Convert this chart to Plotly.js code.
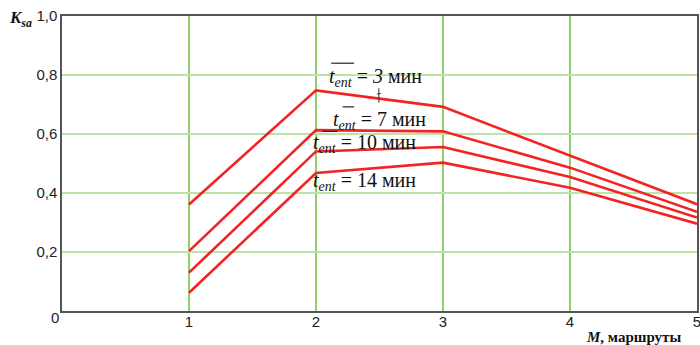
<!DOCTYPE html>
<html>
<head>
<meta charset="utf-8">
<script src="https://cdn.plot.ly/plotly-3.0.1.min.js"></script>
<style>
  html, body { margin: 0; padding: 0; background: #ffffff; }
  #chart { width: 700px; height: 345px; }
</style>
</head>
<body>
<div id="chart"></div>
<script>
// Number of routes M
const routes = [1, 2, 3, 4, 5];

// K_sa for each mean entry time (min)
const ksaT3  = [0.361, 0.748, 0.692, 0.528, 0.362];
const ksaT7  = [0.203, 0.613, 0.609, 0.486, 0.336];
const ksaT10 = [0.130, 0.541, 0.556, 0.454, 0.317];
const ksaT14 = [0.062, 0.468, 0.503, 0.418, 0.296];

const seriesNames = ['t = 3 мин', 't = 7 мин', 't = 10 мин', 't = 14 мин'];
const seriesValues = [ksaT3, ksaT7, ksaT10, ksaT14];

// Axis ticks
const xTickVals = [1, 2, 3, 4, 5];
const xTickText = ['1', '2', '3', '4', '5'];
const yTickVals = [0.2, 0.4, 0.6, 0.8, 1.0];
const yTickText = ['0,2', '0,4', '0,6', '0,8', '1,0'];

const lineRed = '#f42323';
const serif = 'Liberation Serif';
const sans = 'Liberation Sans';

const traces = seriesValues.map((vals, i) => ({
  x: routes,
  y: vals,
  name: seriesNames[i],
  type: 'scatter',
  mode: 'lines',
  line: { color: lineRed, width: 2.6 },
  hoverinfo: 'skip',
  showlegend: false
}));

// Curve labels: mean entry time with overline on t
const labelText = [
  '<i>t</i><sub><i>ent</i></sub> = <i>3</i> мин',
  '<i>t</i><sub><i>ent</i></sub> = 7 мин',
  '<i>t</i><sub><i>ent</i></sub> = 10 мин',
  '<i>t</i><sub><i>ent</i></sub> = 14 мин'
];
const labelPos = [
  { x: 2.465, y: 0.792 },
  { x: 2.50, y: 0.645 },
  { x: 2.38, y: 0.567 },
  { x: 2.38, y: 0.438 }
];

const annotations = labelText.map((t, i) => ({
  x: labelPos[i].x, y: labelPos[i].y, xref: 'x', yref: 'y',
  text: t, showarrow: false,
  font: { family: serif, size: 20, color: '#111' }
}));

// Axis titles
annotations.push({
  xref: 'paper', yref: 'paper', x: -0.066, y: 0.99,
  xanchor: 'center', yanchor: 'middle',
  text: '<b><i>K</i></b><sub><b><i>sa</i></b></sub>',
  showarrow: false,
  font: { family: serif, size: 17, color: '#111' }
});
annotations.push({
  xref: 'paper', yref: 'paper', x: 0.978, y: -0.088,
  xanchor: 'right', yanchor: 'middle',
  text: '<b><i>M</i>, маршруты</b>',
  showarrow: false,
  font: { family: serif, size: 15, color: '#111' }
});
// Origin label
annotations.push({
  xref: 'paper', yref: 'paper', x: -0.002, y: -0.021,
  xanchor: 'right', yanchor: 'middle',
  text: '0', showarrow: false,
  font: { family: sans, size: 15, color: '#222' }
});

// Overlines above t and the small leader under the first label
const shapes = [
  { type: 'line', xref: 'x', yref: 'y', x0: 2.12, x1: 2.30, y0: 0.840, y1: 0.840,
    line: { color: '#222', width: 1.2 } },
  { type: 'line', xref: 'x', yref: 'y', x0: 2.21, x1: 2.30, y0: 0.692, y1: 0.692,
    line: { color: '#222', width: 1.2 } },
  { type: 'line', xref: 'x', yref: 'y', x0: 2.05, x1: 2.17, y0: 0.609, y1: 0.609,
    line: { color: '#222', width: 1.2 } },
  { type: 'line', xref: 'x', yref: 'y', x0: 2.495, x1: 2.495, y0: 0.706, y1: 0.755,
    line: { color: '#333', width: 1 } },
  { type: 'line', xref: 'x', yref: 'y', x0: 2.48, x1: 2.51, y0: 0.735, y1: 0.738,
    line: { color: '#333', width: 1 } }
];

const layout = {
  width: 700,
  height: 345,
  margin: { l: 62, r: 3, t: 16, b: 34, pad: 0 },
  paper_bgcolor: '#ffffff',
  plot_bgcolor: '#ffffff',
  showlegend: false,
  xaxis: {
    range: [0, 5],
    tickvals: xTickVals,
    ticktext: xTickText,
    showgrid: true,
    gridcolor: '#8fd068',
    gridwidth: 1.6,
    zeroline: false,
    showline: true,
    linecolor: '#555',
    linewidth: 1.6,
    mirror: true,
    ticks: '',
    ticklabelstandoff: -4,
    ticklabeloverflow: 'allow',
    tickfont: { family: sans, size: 15, color: '#222' },
    fixedrange: true
  },
  yaxis: {
    range: [0, 1.0],
    tickvals: yTickVals,
    ticktext: yTickText,
    showgrid: true,
    gridcolor: '#bde3a5',
    gridwidth: 2,
    zeroline: false,
    showline: true,
    linecolor: '#555',
    linewidth: 1.6,
    mirror: true,
    ticks: '',
    tickfont: { family: sans, size: 15, color: '#222' },
    fixedrange: true
  },
  annotations: annotations,
  shapes: shapes
};

Plotly.newPlot('chart', traces, layout, { displayModeBar: false, staticPlot: true });
</script>
</body>
</html>
